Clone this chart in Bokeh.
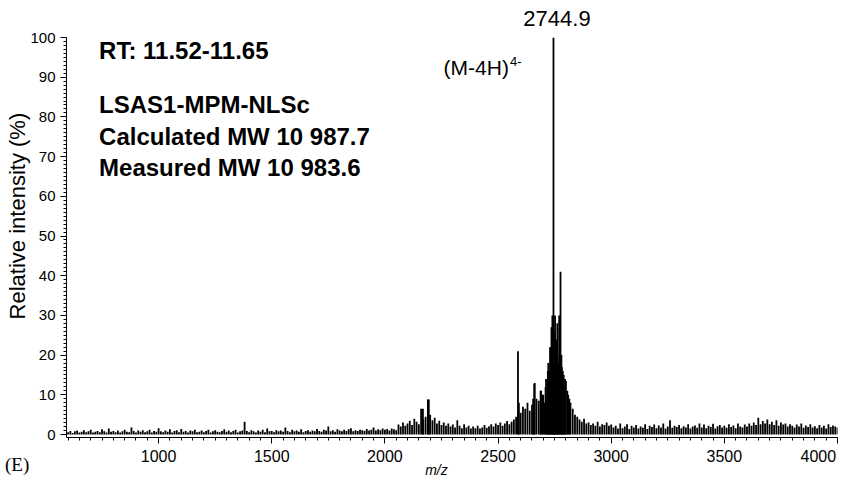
from bokeh.plotting import figure
from bokeh.models import Range1d, FixedTicker, Label, Div
from bokeh.layouts import column
from bokeh.embed import file_html
from bokeh.resources import INLINE

# ---------------- data ----------------
# background "grass": one value every 10 m/z
noise_a_start = 600  # 600 .. 1990
noise_a = [
    0.6, 0.9, 0.4, 0.8, 1.0, 0.5, 0.7, 1.1, 0.6, 0.8,
    1.2, 0.5, 0.7, 0.9, 0.6, 1.3, 0.8, 0.5, 1.5, 0.7,
    0.9, 0.6, 1.0, 0.5, 0.8, 1.2, 0.7, 0.6, 1.8, 0.9,
    0.5, 1.0, 0.7, 1.1, 0.6, 0.8, 1.2, 0.5, 0.9, 0.7,
    1.6, 0.8, 0.6, 1.0, 0.7, 1.3, 0.5, 0.9, 1.1, 0.6,
    1.4, 0.7, 0.9, 0.5, 1.0, 0.8, 1.2, 0.6, 0.7, 1.0,
    0.6, 0.9, 1.2, 0.5, 0.8, 1.1, 0.7, 0.6, 0.9, 1.3,
    0.7, 1.0, 0.6, 0.9, 1.2, 0.5, 0.8, 1.0, 3.2, 0.9,
    0.6, 1.1, 0.8, 0.5, 1.0, 0.7, 1.2, 0.6, 1.5, 0.8,
    0.9, 0.6, 1.1, 0.8, 1.0, 0.7, 1.8, 0.9, 0.6, 1.2,
    0.8, 1.0, 0.7, 1.3, 0.6, 0.9, 1.1, 0.7, 1.0, 0.8,
    1.4, 0.9, 0.7, 1.2, 1.0, 2.0, 0.8, 1.1, 0.7, 1.3,
    1.0, 0.8, 1.2, 0.9, 1.3, 1.6, 0.8, 1.1, 0.9, 1.2,
    1.1, 0.9, 1.4, 1.0, 1.2, 1.8, 1.0, 1.3, 1.1, 1.5,
]
noise_b_start = 2000  # 2000 .. 2990
noise_b = [
    1.2, 1.4, 1.0, 1.5, 1.3, 1.1, 2.5, 2.0, 3.0, 2.2,
    2.8, 3.5, 2.4, 4.0, 3.2, 2.6, 6.5, 3.8, 4.5, 8.8,
    5.0, 3.6, 4.2, 2.8, 3.5, 2.4, 3.0, 2.2, 2.8, 2.0,
    2.5, 1.8, 3.6, 2.2, 1.6, 2.6, 1.8, 2.2, 1.5, 2.0,
    1.6, 2.2, 1.5, 1.8, 2.4, 1.7, 2.1, 2.6, 2.0, 2.8,
    2.4, 3.0, 2.2, 2.8, 3.4, 2.6, 3.2, 3.8, 4.5, 6.0,
    5.5, 7.0, 6.5, 8.0, 6.0, 7.5, 12.7, 9.0, 8.5, 11.0,
    10.0, 12.0, 16.0, 22.0, 26.0, 18.0, 24.0, 30.0, 20.0, 15.0,
    13.5, 10.0, 8.0, 6.5, 5.0, 4.5, 3.8, 3.2, 4.0, 2.8,
    3.0, 2.4, 2.8, 2.2, 3.2, 2.0, 2.6, 2.4, 3.0, 2.2,
]
noise_c_start = 3000  # 3000 .. 4000
noise_c = [
    2.5, 1.8, 2.2, 1.5, 2.8, 1.6, 2.0, 2.6, 1.4, 2.2,
    1.8, 2.4, 1.5, 2.0, 1.7, 2.6, 1.4, 2.2, 1.9, 2.5,
    1.6, 2.3, 1.8, 2.8, 1.5, 2.0, 3.6, 1.7, 2.2, 1.9,
    2.4, 1.6, 2.1, 1.8, 2.6, 1.5, 2.0, 2.3, 1.7, 2.8,
    1.8, 2.5, 1.6, 2.2, 1.9, 2.7, 1.5, 2.1, 2.4, 1.8,
    2.2, 1.7, 2.6, 1.9, 2.3, 1.6, 2.8, 2.0, 1.8, 2.5,
    2.0, 2.8, 2.2, 3.0, 2.4, 4.2, 2.6, 3.4, 2.8, 3.8,
    2.6, 3.2, 2.4, 3.6, 2.2, 3.0, 2.5, 2.8, 2.0, 2.6,
    2.2, 1.8, 2.5, 2.0, 2.8, 1.7, 2.3, 1.9, 2.6, 1.8,
    2.1, 1.6, 2.4, 1.8, 2.2, 1.5, 2.6, 1.9, 2.3, 2.0,
    1.8,
]
noise_step = 10

# individual peaks (m/z, relative intensity %)
peak_mz = [2168, 2194, 2588, 2592, 2655, 2662, 2688, 2695,
           2705, 2712, 2718, 2722, 2726, 2732, 2736, 2740, 2744.9,
           2748, 2752, 2756, 2762, 2766, 2772, 2776, 2782, 2786,
           2792, 2796, 2806, 2815]
peak_int = [6.5, 8.8, 21.0, 8.0, 9.0, 13.0, 11.0, 10.0,
            8.0, 14.0, 10.0, 18.0, 16.0, 22.0, 27.0, 30.0, 100.0,
            26.0, 30.0, 22.0, 28.0, 18.0, 20.0, 41.0, 17.0, 16.0,
            12.0, 14.0, 11.0, 9.0]

x_ticks = [1000, 1500, 2000, 2500, 3000, 3500, 4000]
y_ticks = [0, 10, 20, 30, 40, 50, 60, 70, 80, 90, 100]

info_lines = ["RT: 11.52-11.65", "LSAS1-MPM-NLSc",
              "Calculated MW 10 987.7", "Measured  MW 10 983.6"]
info_y = [96.75, 83.0, 75.0, 67.3]

base_peak_label = "2744.9"

NB = "\u00a0"

# ---------------- build sticks ----------------
mz, inten = [], []
for start, arr in ((noise_a_start, noise_a), (noise_b_start, noise_b), (noise_c_start, noise_c)):
    for i, v in enumerate(arr):
        mz.append(start + i * noise_step)
        inten.append(v)
mz += peak_mz
inten += peak_int

FONT = "Liberation Sans"

p = figure(width=849, height=480, output_backend="svg", toolbar_location=None,
           x_range=Range1d(593, 4000), y_range=Range1d(-0.75, 100),
           min_border_left=66, min_border_right=12, min_border_top=37, min_border_bottom=40)
p.outline_line_color = None
p.xgrid.visible = False
p.ygrid.visible = False
p.background_fill_color = "white"
p.border_fill_color = "white"

p.segment(x0=mz, y0=[0] * len(mz), x1=mz, y1=inten, line_color="black", line_width=1.8)

# axes
xa = p.xaxis[0]
xa.ticker = FixedTicker(ticks=x_ticks, minor_ticks=list(range(600, 4001, 50)))
xa.major_label_overrides = {4000: "4000" + NB * 3}
xa.major_label_text_font = FONT
xa.major_label_text_font_size = "16px"
xa.major_label_text_color = "black"
xa.major_tick_out = 6
xa.major_tick_in = 0
xa.minor_tick_out = 3
xa.minor_tick_in = 0
xa.major_label_standoff = 4
xa.axis_line_color = "black"
xa.axis_label = "m/z" + NB * 8
xa.axis_label_text_font = FONT
xa.axis_label_text_font_style = "italic"
xa.axis_label_text_font_size = "14px"
xa.axis_label_text_color = "black"
xa.axis_label_standoff = -6

ya = p.yaxis[0]
ya.ticker = FixedTicker(ticks=y_ticks, minor_ticks=list(range(0, 101, 1)))
ya.major_label_text_font = FONT
ya.major_label_text_font_size = "15px"
ya.major_label_text_color = "black"
ya.major_tick_out = 6
ya.major_tick_in = 0
ya.minor_tick_out = 3
ya.minor_tick_in = 0
ya.major_label_standoff = 5
ya.axis_line_color = "black"
ya.axis_label = NB * 7 + "Relative intensity (%)"
ya.axis_label_text_font = FONT
ya.axis_label_text_font_style = "normal"
ya.axis_label_text_font_size = "22px"
ya.axis_label_text_color = "black"
ya.axis_label_standoff = -3

# info block
for t, yy in zip(info_lines, info_y):
    p.add_layout(Label(x=737, y=yy, text=t, text_align="left", text_baseline="middle",
                       text_font=FONT, text_font_style="bold", text_font_size="24px", text_color="black"))

# peak annotation
p.add_layout(Label(x=2548, y=92.5, text="(M-4H)", text_align="right", text_baseline="middle",
                   text_font=FONT, text_font_size="21px", text_color="black"))
p.add_layout(Label(x=2548, y=94.0, x_offset=1, text="4-", text_align="left", text_baseline="middle",
                   text_font=FONT, text_font_size="13px", text_color="black"))

# base-peak label above the plot frame
top_div = Div(text=base_peak_label, width=80, height=24, margin=(7, 0, -31, 517),
              styles={"font-family": FONT, "font-size": "22px", "line-height": "24px",
                      "text-align": "center", "color": "black",
                      "position": "relative", "z-index": "10"})

panel = Div(text="(E)", width=40, height=24, margin=(-26, 0, 0, 5),
            styles={"font-family": "Liberation Serif", "font-size": "19px", "line-height": "22px",
                    "color": "black", "position": "relative", "z-index": "10"})

layout = column(top_div, p, panel, spacing=0)
open("out.html", "w").write(file_html(layout, INLINE))
